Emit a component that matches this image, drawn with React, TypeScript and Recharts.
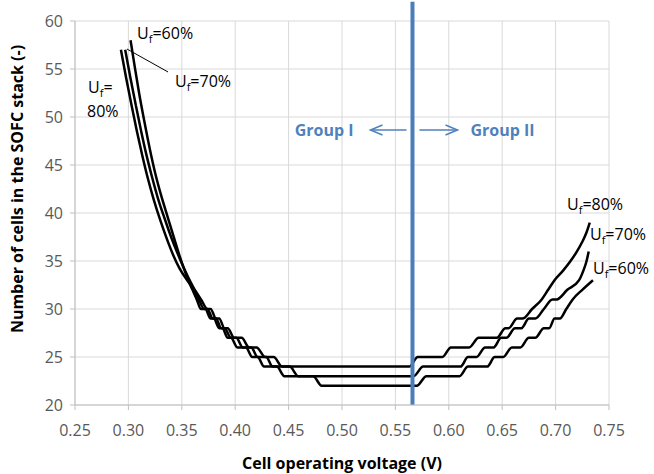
import React from "react";
import {
  LineChart,
  Line,
  XAxis,
  YAxis,
  CartesianGrid,
  ReferenceLine,
  ReferenceDot,
} from "recharts";

const xTicks = [0.25, 0.3, 0.35, 0.4, 0.45, 0.5, 0.55, 0.6, 0.65, 0.7, 0.75];
const yTicks = [20, 25, 30, 35, 40, 45, 50, 55, 60];

// [cell voltage (V), number of cells]
const uf80: [number, number][] = [
  [0.293, 57], [0.298, 54], [0.303, 51.2], [0.308, 48.5], [0.313, 46], [0.318, 43.7],
  [0.324, 41.3], [0.33, 39.2], [0.336, 37.3], [0.342, 35.6], [0.348, 34.2], [0.355, 33],
  [0.362, 32], [0.368, 31], [0.374, 30], [0.377, 30], [0.382, 29], [0.385, 29],
  [0.39, 28], [0.393, 28], [0.399, 27], [0.406, 27], [0.413, 26], [0.42, 26],
  [0.428, 25], [0.436, 25], [0.444, 24], [0.563, 24], [0.571, 25], [0.594, 25],
  [0.602, 26], [0.619, 26], [0.628, 27], [0.645, 27], [0.653, 28], [0.656, 28],
  [0.664, 29], [0.669, 29], [0.678, 30], [0.687, 31], [0.693, 32], [0.699, 33],
  [0.707, 34], [0.714, 35], [0.72, 36], [0.725, 37], [0.729, 38], [0.732, 39],
];

const uf70: [number, number][] = [
  [0.297, 57], [0.302, 54], [0.307, 51.2], [0.312, 48.5], [0.317, 46], [0.322, 43.8],
  [0.328, 41.4], [0.334, 39.4], [0.34, 37.5], [0.346, 35.8], [0.351, 34.5], [0.356, 33.3],
  [0.361, 32.2], [0.366, 31], [0.371, 30], [0.374, 30], [0.379, 29], [0.382, 29],
  [0.387, 28], [0.39, 28], [0.396, 27], [0.401, 27], [0.407, 26], [0.415, 26],
  [0.421, 25], [0.429, 25], [0.435, 24], [0.451, 24], [0.459, 23], [0.567, 23],
  [0.576, 24], [0.611, 24], [0.618, 25], [0.626, 25], [0.634, 26], [0.642, 26],
  [0.649, 27], [0.654, 27], [0.662, 28], [0.668, 28], [0.675, 29], [0.681, 29],
  [0.689, 30], [0.697, 31], [0.701, 31], [0.711, 32], [0.722, 33], [0.726, 34],
  [0.729, 35], [0.731, 36],
];

const uf60: [number, number][] = [
  [0.302, 58], [0.306, 55.2], [0.31, 52.5], [0.315, 49.5], [0.32, 46.7], [0.325, 44.2],
  [0.331, 41.7], [0.337, 39.5], [0.343, 37.3], [0.348, 35.5], [0.352, 34.2], [0.356, 33],
  [0.36, 32], [0.364, 31], [0.368, 30], [0.372, 30], [0.377, 29], [0.38, 29],
  [0.385, 28], [0.388, 28], [0.393, 27], [0.396, 27], [0.402, 26], [0.41, 26],
  [0.416, 25], [0.421, 25], [0.427, 24], [0.439, 24], [0.446, 23], [0.473, 23],
  [0.481, 22], [0.57, 22], [0.579, 23], [0.61, 23], [0.618, 24], [0.636, 24],
  [0.643, 25], [0.651, 25], [0.659, 26], [0.667, 26], [0.675, 27], [0.681, 27],
  [0.689, 28], [0.694, 28], [0.699, 29], [0.704, 29], [0.71, 30], [0.716, 31],
  [0.725, 32], [0.735, 33],
];

const groupBoundary = 0.566;

const FONT = "'Open Sans', sans-serif";
const BLUE = "#4F81BD";

const toRows = (pts: [number, number][]) => pts.map(([v, n]) => ({ v, n }));

function UfText({ cx, cy, pct }: any) {
  return (
    <text x={cx} y={cy} fontSize={16} fill="#000" fontFamily={FONT}>
      U
      <tspan fontSize={11} dy={4}>f</tspan>
      <tspan dy={-4}>={pct}%</tspan>
    </text>
  );
}

function UfTwoLine({ cx, cy, pct }: any) {
  return (
    <g>
      <text x={cx} y={cy} fontSize={16} fill="#000" fontFamily={FONT}>
        U
        <tspan fontSize={11} dy={4}>f</tspan>
        <tspan dy={-4}>=</tspan>
      </text>
      <text x={cx - 1} y={cy + 23.5} fontSize={16} fill="#000" fontFamily={FONT}>
        {pct}%
      </text>
    </g>
  );
}

function GroupMarks({ cx, cy }: any) {
  const txt = { fontSize: 16, fontWeight: 700, fill: BLUE, fontFamily: FONT };
  return (
    <g>
      <text x={cx - 59} y={cy + 6} textAnchor="end" {...txt}>
        Group I
      </text>
      <line x1={cx - 42} y1={cy} x2={cx - 6} y2={cy} stroke={BLUE} strokeWidth={1.5} />
      <polyline
        points={`${cx - 30},${cy - 5} ${cx - 42},${cy} ${cx - 30},${cy + 5}`}
        fill="none"
        stroke={BLUE}
        strokeWidth={1.5}
      />
      <line x1={cx + 7} y1={cy} x2={cx + 45} y2={cy} stroke={BLUE} strokeWidth={1.5} />
      <polyline
        points={`${cx + 33},${cy - 5} ${cx + 45},${cy} ${cx + 33},${cy + 5}`}
        fill="none"
        stroke={BLUE}
        strokeWidth={1.5}
      />
      <text x={cx + 58} y={cy + 6} textAnchor="start" {...txt}>
        Group II
      </text>
    </g>
  );
}

const tickStyle = { fontSize: 16, fill: "#595959", fontFamily: FONT };
const titleStyle = { fontSize: 16, fontWeight: 700, fill: "#000", fontFamily: FONT };

export default function App() {
  return (
    <div style={{ position: "absolute", left: 0, top: 0, background: "#fff" }}>
      <LineChart width={654} height={474} margin={{ top: 21, right: 45, left: 0, bottom: 0 }}>
        <CartesianGrid stroke="#d9d9d9" />
        <XAxis
          dataKey="v"
          type="number"
          domain={[0.25, 0.75]}
          ticks={xTicks}
          tickFormatter={(v: number) => v.toFixed(2)}
          height={69}
          tick={tickStyle}
          tickSize={5}
          tickMargin={15}
          stroke="#bfbfbf"
          allowDataOverflow
          label={{
            value: "Cell operating voltage (V)",
            position: "insideBottom",
            offset: 5,
            style: titleStyle,
          }}
        />
        <YAxis
          type="number"
          domain={[20, 60]}
          ticks={yTicks}
          width={75}
          tick={tickStyle}
          tickSize={5}
          tickMargin={7}
          stroke="#bfbfbf"
          allowDataOverflow
          label={{
            content: ({ viewBox }: any) => {
              const x = (viewBox?.x ?? 0) + 17;
              const y = (viewBox?.y ?? 21) + (viewBox?.height ?? 384) / 2 - 24;
              return (
                <text
                  x={x}
                  y={y}
                  transform={`rotate(-90 ${x} ${y})`}
                  textAnchor="middle"
                  dominantBaseline="central"
                  {...titleStyle}
                >
                  Number of cells in the SOFC stack (-)
                </text>
              );
            },
          }}
        />
        <Line data={toRows(uf80)} dataKey="n" type="monotone" dot={false} stroke="#000" strokeWidth={2.5} isAnimationActive={false} />
        <Line data={toRows(uf70)} dataKey="n" type="monotone" dot={false} stroke="#000" strokeWidth={2.5} isAnimationActive={false} />
        <Line data={toRows(uf60)} dataKey="n" type="monotone" dot={false} stroke="#000" strokeWidth={2.5} isAnimationActive={false} />
        <ReferenceLine
          segment={[
            { x: groupBoundary, y: 20 },
            { x: groupBoundary, y: 62 },
          ]}
          ifOverflow="visible"
          stroke="#4A7EBB"
          strokeWidth={4}
        />
        <ReferenceLine
          segment={[
            { x: 0.2987, y: 57.08 },
            { x: 0.3371, y: 54.69 },
          ]}
          stroke="#000"
          strokeWidth={1}
        />
        <ReferenceDot x={0.3081} y={58.13} r={1} shape={(p: any) => <UfText {...p} pct={60} />} />
        <ReferenceDot x={0.3436} y={53.12} r={1} shape={(p: any) => <UfText {...p} pct={70} />} />
        <ReferenceDot x={0.2622} y={52.45} r={1} shape={(p: any) => <UfTwoLine {...p} pct={80} />} />
        <ReferenceDot x={0.7107} y={40.31} r={1} shape={(p: any) => <UfText {...p} pct={80} />} />
        <ReferenceDot x={0.7322} y={37.19} r={1} ifOverflow="visible" shape={(p: any) => <UfText {...p} pct={70} />} />
        <ReferenceDot x={0.735} y={33.65} r={1} ifOverflow="visible" shape={(p: any) => <UfText {...p} pct={60} />} />
        <ReferenceDot x={groupBoundary} y={48.65} r={1} shape={(p: any) => <GroupMarks {...p} />} />
      </LineChart>
    </div>
  );
}
